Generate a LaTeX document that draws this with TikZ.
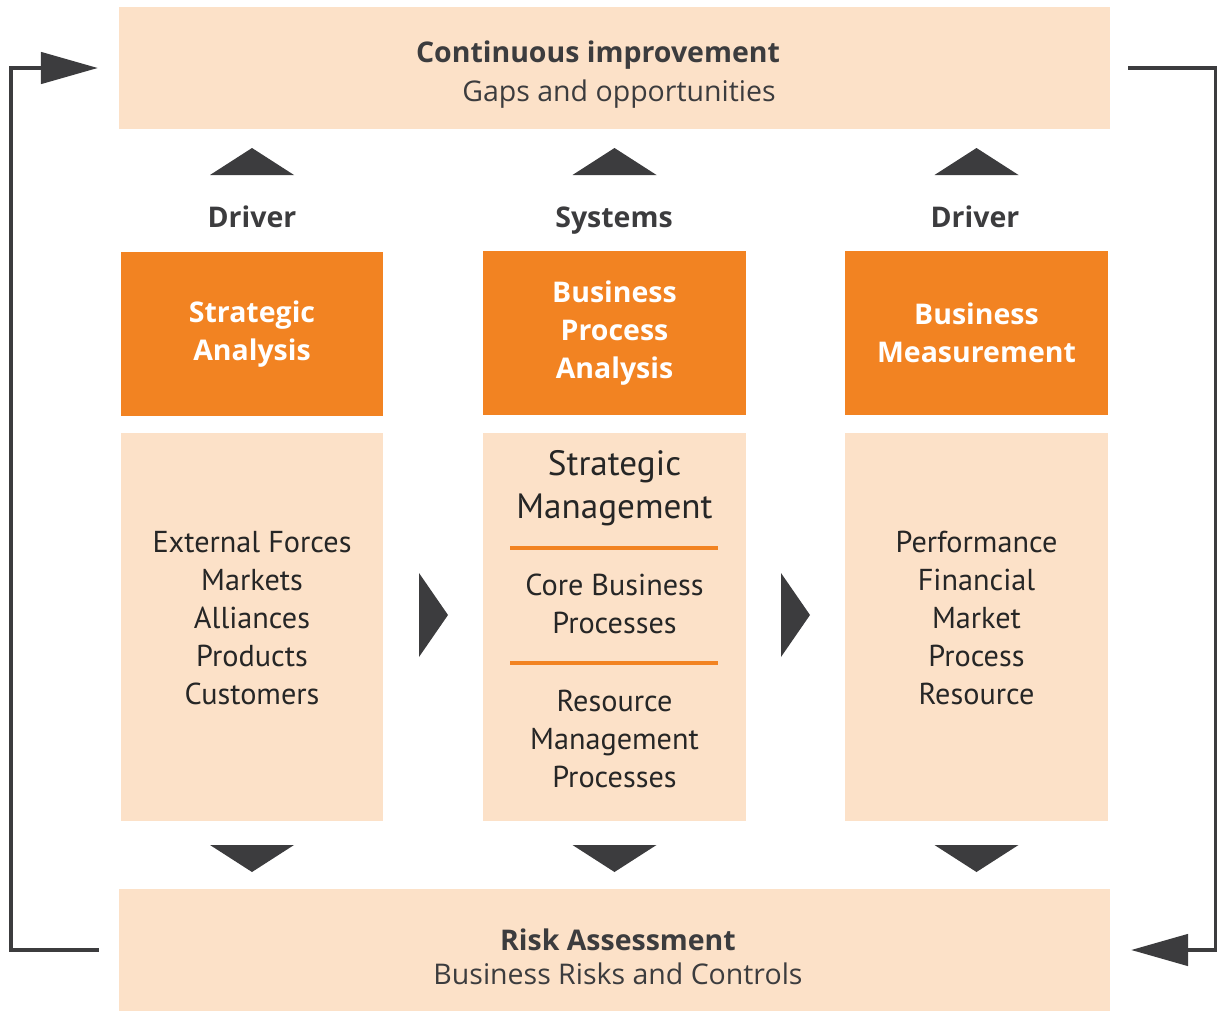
\documentclass[tikz,border=0pt]{standalone}
\usepackage{fontspec}
\setmainfont{Open Sans}
\newfontfamily\listfont{PT Sans}
\usepackage{xcolor}
\usetikzlibrary{arrows.meta, positioning}

\definecolor{peach}{HTML}{FCE1C8}
\definecolor{orangebox}{HTML}{F28322}
\definecolor{darkgrey}{HTML}{3C3C3E}

\begin{document}
\begin{tikzpicture}[x=0.01cm, y=-0.01cm,
    band/.style={fill=peach, minimum width=9.91cm, minimum height=1.22cm, inner sep=0pt},
    bandtitle/.style={text=darkgrey, anchor=base, font=\fontsize{8.1}{10}\selectfont\bfseries, inner sep=0pt},
    bandtext/.style={text=darkgrey, anchor=base, font=\fontsize{8.1}{10}\selectfont, inner sep=0pt},
    colhead/.style={text=darkgrey, anchor=base, font=\fontsize{8.1}{10}\selectfont\bfseries, inner sep=0pt},
    headbox/.style={fill=orangebox, minimum width=2.62cm, minimum height=1.64cm, inner sep=0pt,
        text=white, align=center, font=\fontsize{8.1}{10.8}\selectfont\bfseries},
    listbox/.style={fill=peach, minimum width=2.62cm, minimum height=3.88cm, inner sep=0pt},
    listtext/.style={text=black!85, align=center, inner sep=0pt, font=\listfont\fontsize{8.6}{10.8}\selectfont},
    bigtext/.style={listtext, font=\listfont\fontsize{10}{12.2}\selectfont},
    sepline/.style={orangebox, line width=0.04cm},
    feedback/.style={darkgrey, line width=0.045cm, -{Triangle[length=0.57cm, width=0.31cm]}}]
    \useasboundingbox (0,0) rectangle (1217,1012);

    % Top and bottom bands
    \node[band] (improve) at (614.5,68) {};
    \node[bandtitle] (improvetitle) at (598,62) {Continuous improvement};
    \node[bandtext] (improvetext) at (619,101) {Gaps and opportunities};
    \node[band] (risk) at (614.5,950) {};
    \node[bandtitle] (risktitle) at (618,950) {Risk Assessment};
    \node[bandtext] (risktext) at (618,984) {Business Risks and Controls};

    % Column headings
    \node[colhead] (drvleft) at (252,228) {Driver};
    \node[colhead] (systems) at (614,228) {Systems};
    \node[colhead] (drvright) at (975,228) {Driver};

    % Orange boxes
    \node[headbox] (stratA) at (252,334) {Strategic\\Analysis};
    \node[headbox] (procA) at (614.5,333) {Business\\Process\\Analysis};
    \node[headbox] (measA) at (976.5,333) {Business\\Measurement};

    % Content boxes
    \node[listbox] (stratL) at (252,627) {};
    \node[listbox] (procL) at (614.5,627) {};
    \node[listbox] (measL) at (976.5,627) {};
    \node[listtext] (stratT) at (252,618) {External Forces\\Markets\\Alliances\\Products\\Customers};
    \node[listtext] (measT) at (976.5,618) {Performance\\Financial\\Market\\Process\\Resource};
    \node[bigtext] (procT1) at (614.5,488) {Strategic\\Management};
    \node[listtext] (procT2) at (614.5,604) {Core Business\\Processes};
    \node[listtext] (procT3) at (614.5,739) {Resource\\Management\\Processes};
    \draw[sepline] (510,548) -- (718,548);
    \draw[sepline] (510,663) -- (718,663);

    % Triangles
    \foreach \x in {252,614.5,976.5} {
        \fill[darkgrey] (\x-42,175) -- (\x,148) -- (\x+42,175) -- cycle;
        \fill[darkgrey] (\x-42,845) -- (\x,872) -- (\x+42,845) -- cycle;
    }
    \foreach \x in {419,781}
        \fill[darkgrey] (\x,573) -- (\x+29,615) -- (\x,657) -- cycle;

    % Feedback loop
    \draw[feedback] ([xshift=-0.19cm]risk.west) -- ++(-88,0) |- ([xshift=-0.2cm]improve.west);
    \draw[feedback] ([xshift=0.17cm]improve.east) -- ++(88,0) |- ([xshift=0.2cm]risk.east);
\end{tikzpicture}
\end{document}
